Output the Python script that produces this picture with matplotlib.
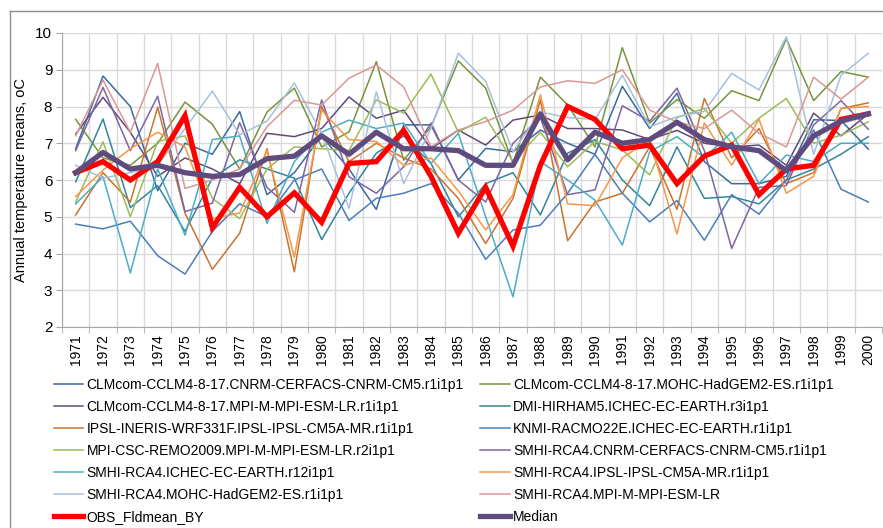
import matplotlib
matplotlib.use('Agg')
import matplotlib.pyplot as plt
from matplotlib.lines import Line2D
import numpy as np

plt.rcParams['font.family'] = ['Liberation Sans', 'DejaVu Sans']

years = [str(y) for y in range(1971, 2001)]

clm_cnrm = [6.85, 8.83, 8.0, 5.71, 7.0, 6.7, 7.86, 5.6, 6.2, 7.2, 6.3, 5.2, 7.5, 7.5, 6.0,
            6.86, 6.77, 7.36, 7.0, 6.7, 8.55, 7.4, 8.36, 6.5, 5.9, 5.9, 6.1, 7.64, 7.62, 6.84]
clm_mohc = [7.65, 6.6, 6.4, 7.0, 8.12, 7.52, 6.3, 7.85, 8.5, 6.9, 7.31, 9.22, 6.54, 7.45, 9.24,
            8.5, 6.45, 8.8, 8.04, 6.9, 9.6, 7.55, 8.19, 7.68, 8.43, 8.16, 9.84, 8.16, 8.95, 8.8]
clm_mpi = [7.25, 8.25, 7.3, 6.1, 6.6, 6.3, 5.9, 7.27, 7.18, 7.4, 8.26, 7.68, 7.9, 6.85, 7.36,
           6.95, 7.63, 7.77, 7.4, 7.4, 7.36, 7.1, 7.35, 7.0, 6.9, 6.95, 6.4, 7.82, 7.2, 7.8]
dmi = [5.95, 7.66, 5.25, 5.85, 4.6, 6.05, 6.55, 6.3, 6.05, 4.38, 5.64, 6.73, 7.2, 6.45, 5.0,
       5.9, 6.2, 5.05, 6.73, 7.1, 6.0, 5.3, 6.9, 5.5, 5.55, 5.35, 6.0, 6.3, 6.7, 7.18]
ipsl_ineris = [5.05, 6.2, 5.4, 7.98, 5.1, 3.57, 4.55, 6.85, 3.5, 8.0, 6.5, 7.0, 6.6, 6.3, 5.5,
               4.27, 5.5, 8.18, 4.35, 5.4, 5.64, 6.9, 5.2, 8.22, 6.6, 7.4, 5.9, 6.2, 7.94, 8.1]
knmi = [4.8, 4.67, 4.88, 3.94, 3.44, 4.6, 5.35, 5.0, 6.0, 6.3, 4.9, 5.5, 5.64, 5.9, 5.1,
        3.84, 4.64, 4.77, 5.64, 6.7, 5.64, 4.86, 5.44, 4.36, 5.6, 5.07, 6.0, 7.36, 5.75, 5.4]
remo = [5.4, 7.04, 5.0, 7.05, 7.2, 5.5, 4.95, 6.3, 6.9, 6.85, 6.8, 8.18, 7.82, 8.88, 7.3,
        7.71, 6.5, 7.3, 6.36, 7.05, 6.82, 6.14, 7.7, 7.95, 7.0, 7.68, 8.22, 7.0, 7.22, 7.58]
smhi_cnrm = [6.8, 8.52, 6.8, 8.28, 5.14, 5.37, 7.56, 5.8, 5.12, 8.18, 6.09, 5.64, 6.36, 7.55, 6.0,
             5.4, 7.0, 7.7, 5.6, 5.73, 8.02, 7.6, 8.5, 6.8, 4.14, 5.8, 5.85, 7.5, 8.16, 7.38]
smhi_ichec = [5.35, 6.09, 3.47, 6.3, 4.5, 7.1, 7.2, 4.82, 6.5, 7.3, 7.63, 7.4, 7.55, 6.45, 7.27,
              5.0, 2.82, 6.5, 6.0, 5.45, 4.23, 6.77, 7.18, 6.6, 7.3, 5.9, 6.68, 6.5, 7.0, 7.0]
smhi_ipsl = [5.55, 6.27, 6.85, 7.3, 6.9, 4.95, 5.1, 6.8, 3.9, 7.9, 7.1, 7.05, 6.4, 6.6, 5.7,
             4.64, 5.6, 8.32, 5.35, 5.3, 6.6, 7.1, 4.53, 7.55, 6.4, 7.65, 5.64, 6.1, 7.95, 8.0]
smhi_mohc = [6.4, 6.05, 6.2, 6.4, 7.4, 8.42, 7.23, 7.6, 8.64, 7.27, 5.23, 8.4, 5.9, 7.4, 9.45,
             8.68, 6.77, 7.85, 7.7, 7.65, 8.85, 7.45, 7.72, 7.87, 8.9, 8.45, 9.9, 6.7, 8.85, 9.45]
smhi_mpi = [7.2, 8.72, 7.3, 9.17, 5.77, 6.0, 6.3, 7.45, 8.17, 8.04, 8.77, 9.13, 8.53, 6.9, 7.36,
            7.59, 7.9, 8.53, 8.7, 8.63, 9.0, 7.9, 7.58, 7.4, 7.9, 7.27, 6.9, 8.8, 8.2, 8.8]
obs = [6.2, 6.5, 6.0, 6.5, 7.75, 4.7, 5.8, 5.0, 5.65, 4.85, 6.45, 6.5, 7.35, 6.1, 4.55,
       5.8, 4.2, 6.4, 8.0, 7.65, 6.85, 6.95, 5.9, 6.65, 6.95, 5.6, 6.3, 6.4, 7.65, 7.8]
median = [6.2, 6.75, 6.3, 6.4, 6.2, 6.1, 6.15, 6.58, 6.65, 7.2, 6.7, 7.3, 6.85, 6.85, 6.8,
          6.4, 6.4, 7.8, 6.55, 7.3, 7.0, 7.1, 7.57, 7.1, 6.9, 6.8, 6.25, 7.2, 7.6, 7.8]

models = [
    ('CLMcom-CCLM4-8-17.CNRM-CERFACS-CNRM-CM5.r1i1p1', clm_cnrm, '#3B6A9E'),
    ('CLMcom-CCLM4-8-17.MOHC-HadGEM2-ES.r1i1p1', clm_mohc, '#77933C'),
    ('CLMcom-CCLM4-8-17.MPI-M-MPI-ESM-LR.r1i1p1', clm_mpi, '#604A7B'),
    ('DMI-HIRHAM5.ICHEC-EC-EARTH.r3i1p1', dmi, '#31859C'),
    ('IPSL-INERIS-WRF331F.IPSL-IPSL-CM5A-MR.r1i1p1', ipsl_ineris, '#C8742E'),
    ('KNMI-RACMO22E.ICHEC-EC-EARTH.r1i1p1', knmi, '#4A7EBB'),
    ('MPI-CSC-REMO2009.MPI-M-MPI-ESM-LR.r2i1p1', remo, '#9BBB59'),
    ('SMHI-RCA4.CNRM-CERFACS-CNRM-CM5.r1i1p1', smhi_cnrm, '#8064A2'),
    ('SMHI-RCA4.ICHEC-EC-EARTH.r12i1p1', smhi_ichec, '#4BACC6'),
    ('SMHI-RCA4.IPSL-IPSL-CM5A-MR.r1i1p1', smhi_ipsl, '#F79646'),
    ('SMHI-RCA4.MOHC-HadGEM2-ES.r1i1p1', smhi_mohc, '#A7BFDE'),
    ('SMHI-RCA4.MPI-M-MPI-ESM-LR', smhi_mpi, '#D99795'),
]

fig = plt.figure(figsize=(8.83, 5.28), dpi=100)
W, H = 883, 528
ax = fig.add_axes([62 / W, 1 - 327 / H, 820 / W, 294 / H])

x = np.arange(len(years))
handles = []
for name, vals, col in models:
    h, = ax.plot(x, vals, color=col, lw=1.1, label=name)
    handles.append(h)
h_obs, = ax.plot(x, obs, color='#FF0000', lw=3.8, label='OBS_Fldmean_BY', solid_joinstyle='miter')
h_med, = ax.plot(x, median, color='#5F4B7D', lw=3.8, label='Median')
handles += [h_obs, h_med]

ax.set_xlim(-0.5, len(years) - 0.5)
ax.set_ylim(2, 10)
ax.set_yticks(range(2, 11))
ax.set_xticks(x)
ax.set_xticklabels(years, rotation=90, fontsize=10)
ax.set_xticks(np.arange(-0.5, len(years)), minor=True)
ax.tick_params(axis='x', which='major', length=0, pad=5)
ax.tick_params(axis='x', which='minor', length=4, color='#A6A6A6')
ax.tick_params(axis='y', length=4, color='#A6A6A6', labelsize=11, pad=3)
ax.grid(True, axis='y', color='#D9D9D9', lw=1)
ax.grid(True, axis='x', which='minor', color='#D9D9D9', lw=1)
ax.set_axisbelow(True)
for s in ['top', 'right']:
    ax.spines[s].set_visible(False)
for s in ['left', 'bottom']:
    ax.spines[s].set_color('#A6A6A6')

ax.set_ylabel('Annual temperature means, oC', fontsize=10.5)
ax.yaxis.set_label_coords(-34 / 820, 0.5)

# legend rows go left to right like the original
order = handles[0::2] + handles[1::2]
fig.legend(handles=order, loc='upper left', bbox_to_anchor=(54 / W, 1 - 378 / H),
           ncol=2, frameon=False, fontsize=10, handlelength=2.1, handletextpad=0.25,
           columnspacing=1.2, labelspacing=0.58, borderaxespad=0, borderpad=0)

# chart area border
fig.add_artist(Line2D([10 / W, 1], [1 - 11 / H, 1 - 11 / H], color='#8C8C8C', lw=1))
fig.add_artist(Line2D([10 / W, 10 / W], [0, 1 - 11 / H], color='#8C8C8C', lw=1))

fig.savefig('out.png', dpi=100)
